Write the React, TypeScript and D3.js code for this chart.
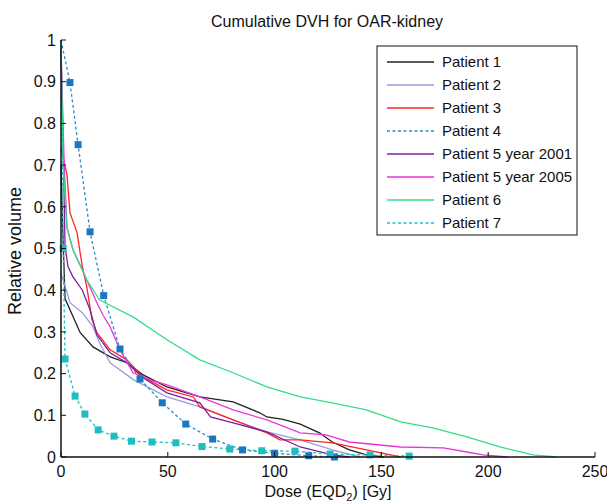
import * as d3 from "d3";

type Pt = [number, number];

const p1: Pt[] = [[0, 0.7], [0.8, 0.55], [1.9, 0.38], [4.2, 0.353], [9, 0.298], [15, 0.264], [23, 0.24], [30.8, 0.226], [38.4, 0.197], [49.6, 0.168], [65, 0.144], [80.6, 0.132], [93, 0.106], [96.4, 0.096], [104, 0.09], [112, 0.079], [121, 0.058], [127, 0.036], [135, 0.017], [143, 0.005], [151, 0]];
const p2: Pt[] = [[0, 0.44], [1.9, 0.41], [4.2, 0.37], [10, 0.346], [15, 0.312], [18, 0.274], [23, 0.226], [34, 0.185], [49.6, 0.144], [65, 0.12], [80.6, 0.089], [96.4, 0.06], [112, 0.041], [127, 0.017], [140, 0]];
const p3: Pt[] = [[0, 0.74], [2.8, 0.677], [4.2, 0.586], [7.5, 0.538], [10, 0.456], [12, 0.41], [14.5, 0.33], [16.8, 0.298], [23, 0.257], [30.8, 0.233], [38.4, 0.192], [49.6, 0.161], [62, 0.144], [65, 0.12], [80.6, 0.089], [96.4, 0.058], [102.5, 0.041], [112, 0.041], [127, 0.034], [143, 0.017], [159, 0]];
const p4: Pt[] = [[0, 1], [4.2, 0.898], [8, 0.749], [13.6, 0.54], [20, 0.387], [27.6, 0.259], [37, 0.187], [47.4, 0.13], [58.4, 0.079], [71, 0.043], [85, 0.017], [100, 0.009], [116, 0.003], [128, 0]];
const p5a: Pt[] = [[0, 0.97], [1.2, 0.7], [1.9, 0.504], [3.3, 0.456], [5.6, 0.432], [10, 0.4], [13.6, 0.353], [16.8, 0.293], [23, 0.25], [30.8, 0.226], [38.4, 0.19], [49.6, 0.154], [65, 0.13], [70, 0.096], [80.6, 0.082], [96.4, 0.06], [112, 0.024], [127, 0.005], [135, 0]];
const p5b: Pt[] = [[0, 0.98], [1.5, 0.7], [2.8, 0.55], [5.6, 0.497], [10, 0.449], [12, 0.425], [16.8, 0.37], [19.7, 0.34], [23, 0.312], [27.6, 0.257], [33.7, 0.202], [41.7, 0.185], [49.6, 0.173], [65, 0.144], [80.6, 0.113], [96.4, 0.089], [112, 0.058], [124, 0.053], [135, 0.036], [159, 0.024], [179, 0.022], [190, 0.012], [197.6, 0.005], [209, 0]];
const p6: Pt[] = [[0, 1], [1, 0.7], [2.8, 0.55], [5.6, 0.497], [12, 0.425], [18, 0.377], [20.6, 0.37], [33.7, 0.336], [49.6, 0.281], [65, 0.233], [80.6, 0.202], [96.4, 0.168], [112, 0.144], [127, 0.13], [143, 0.113], [159, 0.084], [174, 0.07], [190, 0.048], [205.5, 0.024], [221, 0.005], [232, 0]];
const p7: Pt[] = [[0, 1], [1, 0.5], [1.9, 0.235], [6.6, 0.146], [11.2, 0.103], [17.4, 0.065], [24.8, 0.05], [33, 0.038], [42.6, 0.036], [53.8, 0.034], [66, 0.025], [79, 0.019], [94, 0.015], [109.5, 0.014], [126, 0.007], [144.7, 0.005], [163, 0.002]];

const seriesNames = ["Patient 1", "Patient 2", "Patient 3", "Patient 4", "Patient 5 year 2001", "Patient 5 year 2005", "Patient 6", "Patient 7"];
const seriesData = [p1, p2, p3, p4, p5a, p5b, p6, p7];
const seriesColors = ["#222222", "#9c9ce0", "#ff2525", "#2a8ccc", "#7d1fa0", "#ee33dd", "#33dd88", "#22c0c0"];
const seriesDashed = [false, false, false, true, false, false, false, true];
const markerColors = [null, null, null, "#1a78c2", null, null, null, "#1fbcc0"];

const xTicks = [0, 50, 100, 150, 200, 250];
const yTicks = [0, 0.1, 0.2, 0.3, 0.4, 0.5, 0.6, 0.7, 0.8, 0.9, 1];

const W = 607;
const H = 503;
const left = 61;
const right = 595;
const top = 40;
const bottom = 457;
const font = "Arial, 'Liberation Sans', Helvetica, sans-serif";

export default function App() {
  const x = d3.scaleLinear().domain([0, 250]).range([left, right]);
  const y = d3.scaleLinear().domain([0, 1]).range([bottom, top]);
  const line = d3.line<Pt>().x((d) => x(d[0])).y((d) => y(d[1]));

  return (
    <svg width={W} height={H} style={{ position: "absolute", left: 0, top: 0, background: "#fff" }} fontFamily={font} fill="#111">
      <text x={327} y={27} textAnchor="middle" fontSize={16}>Cumulative DVH for OAR-kidney</text>

      {seriesData.map((d, i) => (
        <path key={i} d={line(d) || ""} fill="none" stroke={seriesColors[i]}
          strokeWidth={1.3} strokeDasharray={seriesDashed[i] ? "3,2.5" : undefined} />
      ))}
      {seriesData.map((d, i) =>
        markerColors[i]
          ? d.slice(1).map((p, j) => (
              <rect key={`${i}-${j}`} x={x(p[0]) - 3.5} y={y(p[1]) - 3.5} width={7} height={7} fill={markerColors[i]!} />
            ))
          : null
      )}

      {/* axes */}
      <line x1={left} x2={left} y1={top} y2={bottom} stroke="#111" strokeWidth={1.5} />
      <line x1={left} x2={right} y1={bottom} y2={bottom} stroke="#111" strokeWidth={1.5} />
      {yTicks.map((t) => (
        <g key={`y${t}`}>
          <line x1={left} x2={left + 5} y1={y(t)} y2={y(t)} stroke="#111" />
          <text x={left - 5} y={y(t)} dy="0.36em" textAnchor="end" fontSize={16}>{d3.format("~g")(t)}</text>
        </g>
      ))}
      {xTicks.map((t) => (
        <g key={`x${t}`}>
          <line x1={x(t)} x2={x(t)} y1={bottom} y2={bottom - 5} stroke="#111" />
          <text x={x(t)} y={bottom + 20} textAnchor="middle" fontSize={16}>{t}</text>
        </g>
      ))}
      <text x={328} y={497} textAnchor="middle" fontSize={16}>
        Dose (EQD<tspan fontSize={11} dy={4}>2</tspan><tspan dy={-4}>) [Gy]</tspan>
      </text>
      <text transform={`translate(21,${251}) rotate(-90)`} textAnchor="middle" fontSize={18}>Relative volume</text>

      {/* legend */}
      <rect x={377} y={46} width={200} height={189} fill="#fff" stroke="#111" strokeWidth={1} />
      {seriesNames.map((n, i) => (
        <g key={n} transform={`translate(0,${62 + i * 23})`}>
          <line x1={387} x2={434} y1={0} y2={0} stroke={seriesColors[i]} strokeWidth={1.3}
            strokeDasharray={seriesDashed[i] ? "3,2.5" : undefined} />
          <text x={442} y={0} dy="0.36em" fontSize={15}>{n}</text>
        </g>
      ))}
    </svg>
  );
}
